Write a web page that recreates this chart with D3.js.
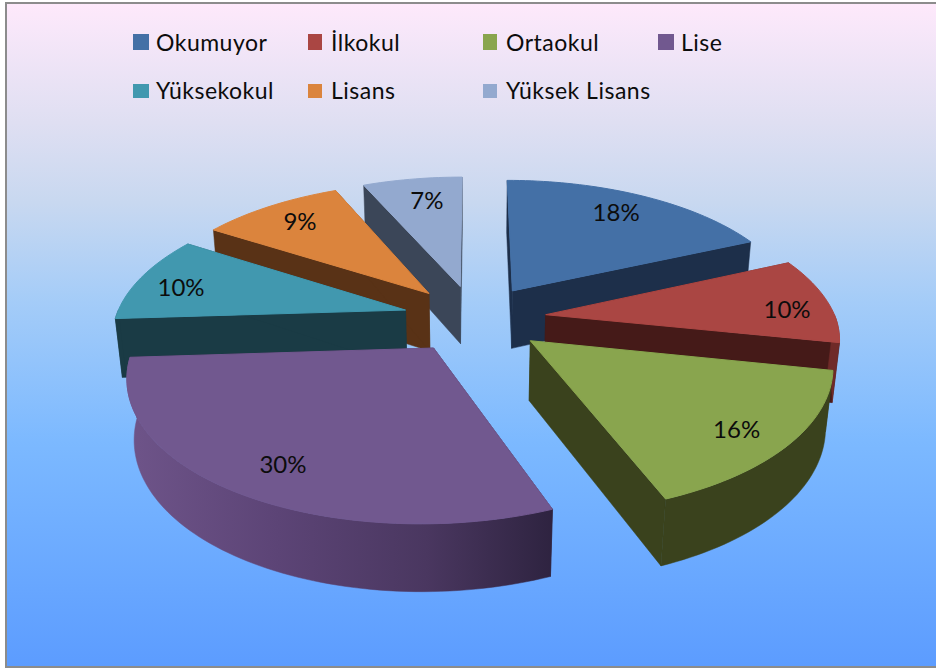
<!DOCTYPE html>
<html>
<head>
<meta charset="utf-8">
<script src="https://cdn.jsdelivr.net/npm/d3@7"></script>
<style>
html,body{margin:0;padding:0;background:#fff;overflow:hidden}
svg{display:block}
text{font-family:Lato,"Open Sans",sans-serif;fill:#0c0c0c}
</style>
</head>
<body>
<svg id="chart" width="936" height="671"></svg>
<script>
const categories = ["Okumuyor","İlkokul","Ortaokul","Lise","Yüksekokul","Lisans","Yüksek Lisans"];
const shares = [18.3,9.9,15.8,30,10,9.4,6.6];
const topColors = ["#4470a6","#aa4643","#89a54e","#71588f","#4198af","#db843d","#93a9cf"];
const cutColors = ["#1d2f4a","#451a18","#3a421d","#33263f","#1a3b45","#593216","#3b4658"];
const wallColors = ["#1d2f4a","#6f2a28","#3a421d","url(#liseWall)","#1a3b45","#593216","#3b4658"];
const labelNudgeX = [-3,16,4,3,-11,1,6];
const labelNudgeY = [0,7,8,6,4,0,3];

const W = 936, H = 671;
const svg = d3.select("#chart");
const defs = svg.append("defs");

const bg = defs.append("linearGradient").attr("id","bg").attr("x1",0).attr("y1",0).attr("x2",0).attr("y2",1);
[[0,"#fee9fb"],[0.18,"#dfdff2"],[0.3,"#c8d8f0"],[0.45,"#a4ccf8"],[0.66,"#7cb9ff"],[1,"#5c9cff"]]
  .forEach(s=>bg.append("stop").attr("offset",s[0]).attr("stop-color",s[1]));
const lw = defs.append("linearGradient").attr("id","liseWall").attr("gradientUnits","userSpaceOnUse")
  .attr("x1",130).attr("y1",0).attr("x2",553).attr("y2",0);
[[0,"#6e5489"],[0.35,"#5c4476"],[0.7,"#4a3760"],[1,"#2e2340"]]
  .forEach(s=>lw.append("stop").attr("offset",s[0]).attr("stop-color",s[1]));

svg.append("rect").attr("x",6).attr("y",3).attr("width",W+10).attr("height",664)
  .attr("fill","url(#bg)").attr("stroke","#8c8c8c").attr("stroke-width",2);

// perspective projection of the pie plane
const cx = 474.5, cy = 318.4, R = 290, Rb = 136.6, Depth = 60, k = 0.162, m = 0.02, explode = 0.248, skew = 5;
function project(u,v,z){
  const w = 1/(1 - k*v + m*z);
  return [cx + u*R*w - skew*Math.max(v,0), cy + (v*Rb + z*Depth)*w];
}
const pie = d3.pie().sort(null).startAngle(0).endAngle(2*Math.PI);
const arcs = pie(shares).map((a,i)=>{
  const mid = (a.startAngle+a.endAngle)/2;
  return {i, a0:a.startAngle, a1:a.endAngle, mid,
          ou:explode*Math.sin(mid), ov:-explode*Math.cos(mid)};
});
const line = d3.line();
function rimRange(d,t0,t1,z){
  const n = Math.max(8,Math.ceil((t1-t0)*40));
  return d3.range(n+1).map(j=>{
    const t = t0+(t1-t0)*j/n;
    return project(d.ou+Math.sin(t), d.ov-Math.cos(t), z);
  });
}
const apex = (d,z)=>project(d.ou,d.ov,z);
const edge = (d,t,z)=>project(d.ou+Math.sin(t),d.ov-Math.cos(t),z);

const order = arcs.slice().sort((p,q)=>p.ov-q.ov);
const g = svg.append("g").selectAll("g").data(order).join("g");
// cut faces
g.append("path").attr("fill",d=>cutColors[d.i]).attr("stroke",d=>cutColors[d.i]).attr("stroke-width",0.5)
  .attr("d",d=>line([apex(d,0),edge(d,d.a0,0),edge(d,d.a0,1),apex(d,1)])+"Z");
g.append("path").attr("fill",d=>cutColors[d.i]).attr("stroke",d=>cutColors[d.i]).attr("stroke-width",0.5)
  .attr("d",d=>line([apex(d,0),edge(d,d.a1,0),edge(d,d.a1,1),apex(d,1)])+"Z");
// outer wall: only the part of the rim that faces the viewer
g.append("path").attr("fill",d=>wallColors[d.i]).attr("stroke",d=>wallColors[d.i]).attr("stroke-width",0.5)
  .attr("d",d=>{
    const t0 = Math.max(d.a0,Math.PI/2), t1 = Math.min(d.a1,3*Math.PI/2);
    if (t1<=t0) return null;
    return line(rimRange(d,t0,t1,0).concat(rimRange(d,t0,t1,1).reverse()))+"Z";
  });
// top face
g.append("path").attr("fill",d=>topColors[d.i]).attr("stroke",d=>topColors[d.i]).attr("stroke-width",1)
  .attr("d",d=>line([apex(d,0)].concat(rimRange(d,d.a0,d.a1,0)))+"Z");

// percentage labels
const labelR = 0.8;
svg.append("g").selectAll("text").data(arcs).join("text")
  .attr("text-anchor","middle").attr("font-size",24)
  .attr("transform",d=>{
    const p = project(d.ou+labelR*Math.sin(d.mid), d.ov-labelR*Math.cos(d.mid), 0);
    return `translate(${p[0]+labelNudgeX[d.i]},${p[1]+8+labelNudgeY[d.i]})`;
  })
  .text(d=>Math.round(shares[d.i])+"%");

// legend
const cols = d3.scalePoint().domain([0,1,2,3]).range([133,658]);
const rows = d3.scalePoint().domain([0,1]).range([34,84]);
const leg = svg.append("g").selectAll("g").data(categories).join("g")
  .attr("transform",(d,i)=>`translate(${cols(i%4)},${rows(Math.floor(i/4))})`);
leg.append("rect").attr("width",(d,i)=>i%4===0||i%4===3?16:14)
  .attr("height",(d,i)=>i<4?16:14).attr("fill",(d,i)=>topColors[i]);
leg.append("text").attr("x",23).attr("y",(d,i)=>i<4?17:15).attr("font-size",23)
  .attr("letter-spacing",0.5).text(d=>d);
</script>
</body>
</html>
